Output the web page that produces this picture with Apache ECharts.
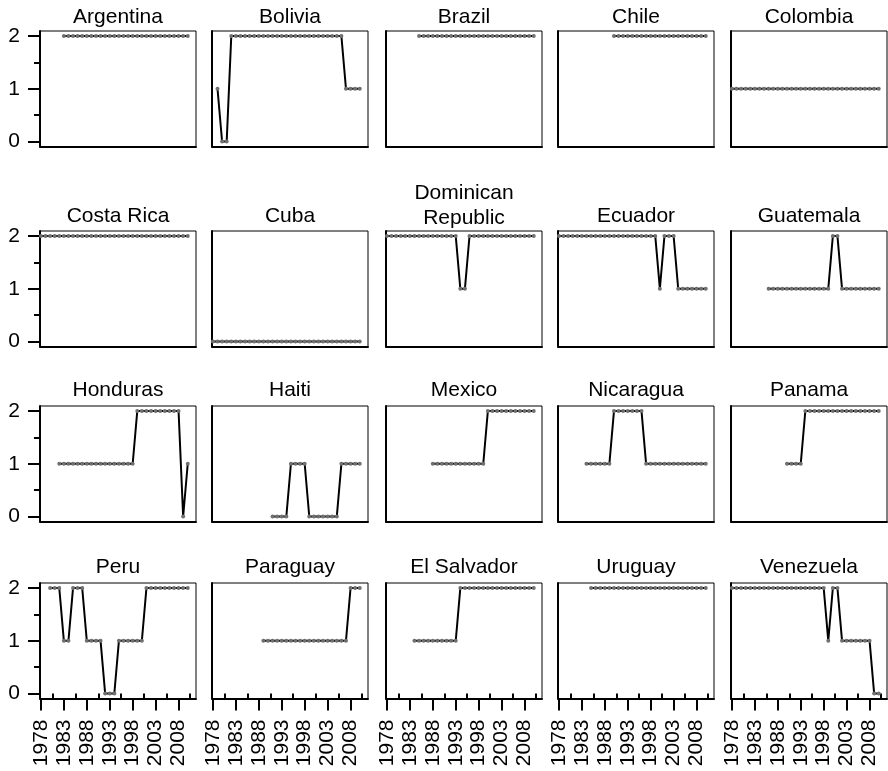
<!DOCTYPE html>
<html>
<head>
<meta charset="utf-8">
<script src="https://cdn.jsdelivr.net/npm/echarts@6/dist/echarts.min.js"></script>
<style>
html,body{margin:0;padding:0;background:#fff;}
#chart{width:888px;height:771px;}
</style>
</head>
<body>
<div id="chart"></div>
<script>
var years = [1978,1979,1980,1981,1982,1983,1984,1985,1986,1987,1988,1989,1990,1991,1992,1993,1994,1995,1996,1997,1998,1999,2000,2001,2002,2003,2004,2005,2006,2007,2008,2009,2010];
var countries = ["Argentina","Bolivia","Brazil","Chile","Colombia","Costa Rica","Cuba","Dominican\nRepublic","Ecuador","Guatemala","Honduras","Haiti","Mexico","Nicaragua","Panama","Peru","Paraguay","El Salvador","Uruguay","Venezuela"];
var xTickLabels = [1978,1983,1988,1993,1998,2003,2008];
var xMinorTicks = [1980.5,1985.5,1990.5,1995.5,2000.5,2005.5,2010.5];
var yTickLabels = [0,1,2];
var yMinorTicks = [0.5,1.5];
var _ = null;
//                1978        1983          1988          1993          1998          2003          2008
var argentina  = [_,_,_,_,_, 2,2,2,2,2, 2,2,2,2,2, 2,2,2,2,2, 2,2,2,2,2, 2,2,2,2,2, 2,2,2];
var bolivia    = [_,1,0,0,2, 2,2,2,2,2, 2,2,2,2,2, 2,2,2,2,2, 2,2,2,2,2, 2,2,2,2,1, 1,1,1];
var brazil     = [_,_,_,_,_, _,_,2,2,2, 2,2,2,2,2, 2,2,2,2,2, 2,2,2,2,2, 2,2,2,2,2, 2,2,2];
var chile      = [_,_,_,_,_, _,_,_,_,_, _,_,2,2,2, 2,2,2,2,2, 2,2,2,2,2, 2,2,2,2,2, 2,2,2];
var colombia   = [1,1,1,1,1, 1,1,1,1,1, 1,1,1,1,1, 1,1,1,1,1, 1,1,1,1,1, 1,1,1,1,1, 1,1,1];
var costaRica  = [2,2,2,2,2, 2,2,2,2,2, 2,2,2,2,2, 2,2,2,2,2, 2,2,2,2,2, 2,2,2,2,2, 2,2,2];
var cuba       = [0,0,0,0,0, 0,0,0,0,0, 0,0,0,0,0, 0,0,0,0,0, 0,0,0,0,0, 0,0,0,0,0, 0,0,0];
var dominican  = [2,2,2,2,2, 2,2,2,2,2, 2,2,2,2,2, 2,1,1,2,2, 2,2,2,2,2, 2,2,2,2,2, 2,2,2];
var ecuador    = [2,2,2,2,2, 2,2,2,2,2, 2,2,2,2,2, 2,2,2,2,2, 2,2,1,2,2, 2,1,1,1,1, 1,1,1];
var guatemala  = [_,_,_,_,_, _,_,_,1,1, 1,1,1,1,1, 1,1,1,1,1, 1,1,2,2,1, 1,1,1,1,1, 1,1,1];
var honduras   = [_,_,_,_,1, 1,1,1,1,1, 1,1,1,1,1, 1,1,1,1,1, 1,2,2,2,2, 2,2,2,2,2, 2,0,1];
var haiti      = [_,_,_,_,_, _,_,_,_,_, _,_,_,0,0, 0,0,1,1,1, 1,0,0,0,0, 0,0,0,1,1, 1,1,1];
var mexico     = [_,_,_,_,_, _,_,_,_,_, 1,1,1,1,1, 1,1,1,1,1, 1,1,2,2,2, 2,2,2,2,2, 2,2,2];
var nicaragua  = [_,_,_,_,_, _,1,1,1,1, 1,1,2,2,2, 2,2,2,2,1, 1,1,1,1,1, 1,1,1,1,1, 1,1,1];
var panama     = [_,_,_,_,_, _,_,_,_,_, _,_,1,1,1, 1,2,2,2,2, 2,2,2,2,2, 2,2,2,2,2, 2,2,2];
var peru       = [_,_,2,2,2, 1,1,2,2,2, 1,1,1,1,0, 0,0,1,1,1, 1,1,1,2,2, 2,2,2,2,2, 2,2,2];
var paraguay   = [_,_,_,_,_, _,_,_,_,_, _,1,1,1,1, 1,1,1,1,1, 1,1,1,1,1, 1,1,1,1,1, 2,2,2];
var elSalvador = [_,_,_,_,_, _,1,1,1,1, 1,1,1,1,1, 1,2,2,2,2, 2,2,2,2,2, 2,2,2,2,2, 2,2,2];
var uruguay    = [_,_,_,_,_, _,_,2,2,2, 2,2,2,2,2, 2,2,2,2,2, 2,2,2,2,2, 2,2,2,2,2, 2,2,2];
var venezuela  = [2,2,2,2,2, 2,2,2,2,2, 2,2,2,2,2, 2,2,2,2,2, 2,1,2,2,1, 1,1,1,1,1, 1,0,0];
var seriesValues = [argentina,bolivia,brazil,chile,colombia,costaRica,cuba,dominican,ecuador,guatemala,honduras,haiti,mexico,nicaragua,panama,peru,paraguay,elSalvador,uruguay,venezuela];

var FONT = 'Liberation Sans, Arial, Helvetica, sans-serif';
var colLeft = [40, 212, 386, 558, 731];
var rowTop = [31, 231, 406, 583];
var panelW = 156, panelH = 115.5;
var rowTitleBaseline = [23, 221.7, 396, 572.7];
var XMIN = 1977.8, XMAX = 2011.8, YMIN = -0.095, YMAX = 2.095;

var grids = [], xAxes = [], yAxes = [], series = [], titles = [];
for (var i = 0; i < 20; i++) {
  var r = Math.floor(i / 5), c = i % 5;
  grids.push({left: colLeft[c], top: rowTop[r], width: panelW, height: panelH,
    show: true, borderColor: '#000', borderWidth: 1, backgroundColor: 'transparent', containLabel: false});
  var bottomRow = (r === 3), firstCol = (c === 0);
  xAxes.push({type: 'value', gridIndex: i, min: XMIN, max: XMAX, position: 'bottom',
    axisLine: {show: true, onZero: false, lineStyle: {color: '#000', width: 2}},
    axisTick: {show: bottomRow, customValues: xTickLabels, length: 12, lineStyle: {color: '#000', width: 2}},
    axisLabel: {show: bottomRow, customValues: xTickLabels, rotate: 90, margin: 21, fontSize: 21, color: '#000', fontFamily: FONT,
      formatter: function (v) { return String(v); }},
    splitLine: {show: false}});
  yAxes.push({type: 'value', gridIndex: i, min: YMIN, max: YMAX, position: 'left',
    axisLine: {show: true, onZero: false, lineStyle: {color: '#000', width: 2}},
    axisTick: {show: firstCol, customValues: yTickLabels, length: 12, lineStyle: {color: '#000', width: 2}},
    axisLabel: {show: firstCol, customValues: yTickLabels, margin: 20, fontSize: 21, color: '#000', fontFamily: FONT,
      formatter: function (v) { return String(v); }},
    splitLine: {show: false}});
  var vals = seriesValues[i];
  var data = [];
  for (var k = 0; k < years.length; k++) {
    if (vals[k] !== null) data.push([years[k], vals[k]]);
  }
  series.push({type: 'line', xAxisIndex: i, yAxisIndex: i, data: data,
    symbol: 'circle', symbolSize: 4, showSymbol: true, showAllSymbol: true,
    lineStyle: {color: '#000', width: 2}, itemStyle: {color: '#707070'},
    emphasis: {disabled: true}, animation: false, silent: true});
  var multi = countries[i].indexOf('\n') >= 0;
  var baseline = rowTitleBaseline[r];
  titles.push({text: countries[i], left: colLeft[c] + panelW / 2, textAlign: 'center',
    top: multi ? baseline - 25.5 - 16 : baseline - 16, padding: 0,
    textStyle: {fontSize: 21, fontWeight: 'normal', color: '#000', fontFamily: FONT, lineHeight: multi ? 25.5 : 21}});
}
for (var c2 = 0; c2 < 5; c2++) {
  xAxes.push({type: 'value', gridIndex: 15 + c2, min: XMIN, max: XMAX, position: 'bottom', offset: 0,
    axisLine: {show: false}, axisLabel: {show: false}, splitLine: {show: false},
    axisTick: {show: true, customValues: xMinorTicks, length: 6, lineStyle: {color: '#000', width: 2}}});
}
for (var r2 = 0; r2 < 4; r2++) {
  yAxes.push({type: 'value', gridIndex: r2 * 5, min: YMIN, max: YMAX, position: 'left', offset: 0,
    axisLine: {show: false}, axisLabel: {show: false}, splitLine: {show: false},
    axisTick: {show: true, customValues: yMinorTicks, length: 6, lineStyle: {color: '#000', width: 2}}});
}

var chart = echarts.init(document.getElementById('chart'), null, {renderer: 'canvas'});
chart.setOption({
  backgroundColor: '#fff',
  animation: false,
  title: titles,
  grid: grids,
  xAxis: xAxes,
  yAxis: yAxes,
  series: series
});
</script>
</body>
</html>
